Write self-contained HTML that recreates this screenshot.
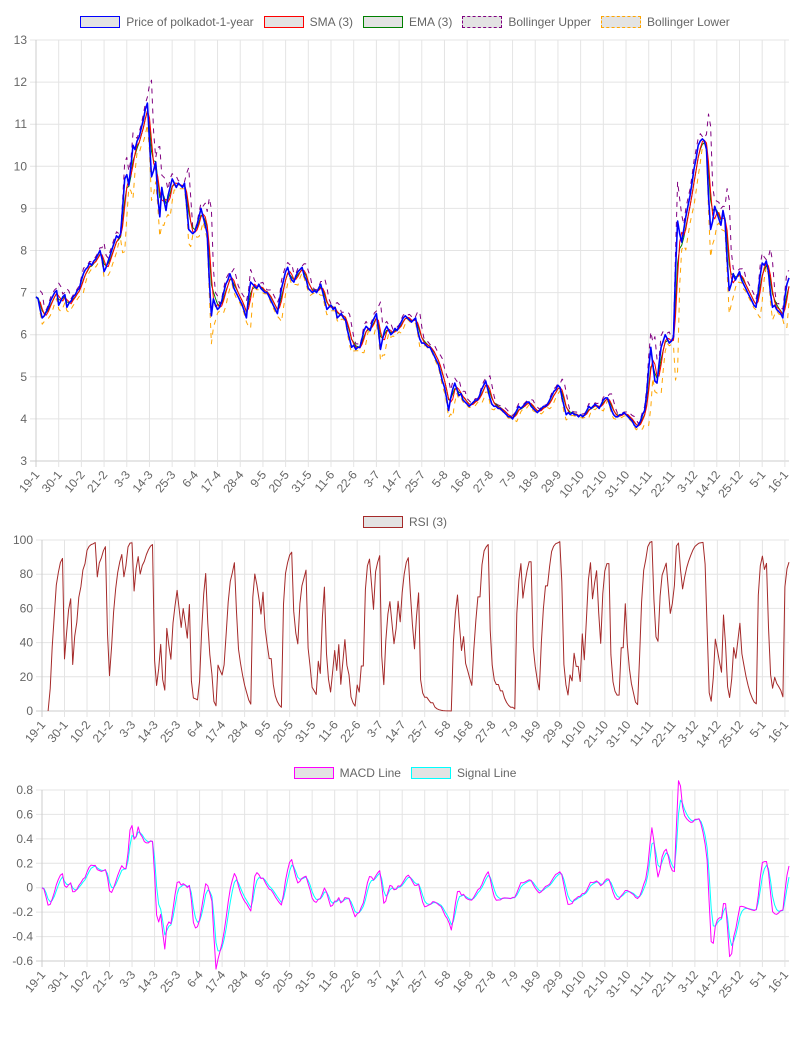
<!DOCTYPE html>
<html><head><meta charset="utf-8">
<style>
body{margin:0;background:#fff;font-family:"Liberation Sans",Arial,sans-serif;}
#wrap{position:relative;width:810px;height:1060px;overflow:hidden;}
.legend{position:absolute;left:0;width:810px;display:flex;justify-content:center;gap:10px;font-size:12px;color:#666;}
.li{display:flex;align-items:center;}
.box{width:38px;height:10px;margin-right:6px;background:rgba(200,200,200,0.5);}
svg{position:absolute;left:0;top:0;}
</style></head><body>
<div id="wrap">
<div class="legend" style="top:15px">
 <div class="li"><span class="box" style="border:1px solid blue"></span>Price of polkadot-1-year</div>
 <div class="li"><span class="box" style="border:1px solid red"></span>SMA (3)</div>
 <div class="li"><span class="box" style="border:1px solid green"></span>EMA (3)</div>
 <div class="li"><span class="box" style="border:1px dashed purple"></span>Bollinger Upper</div>
 <div class="li"><span class="box" style="border:1px dashed orange"></span>Bollinger Lower</div>
</div>
<div class="legend" style="top:515px">
 <div class="li"><span class="box" style="border:1px solid brown"></span>RSI (3)</div>
</div>
<div class="legend" style="top:766px">
 <div class="li"><span class="box" style="border:1px solid magenta"></span>MACD Line</div>
 <div class="li"><span class="box" style="border:1px solid cyan"></span>Signal Line</div>
</div>
<svg id="svg" width="810" height="1060"></svg>
</div>
<script>
const prices=[6.9,6.85,6.6,6.4,6.45,6.55,6.65,6.8,6.9,7.0,7.05,
6.7,6.8,6.9,6.95,6.65,6.75,6.8,6.9,6.95,7.05,7.1,
7.3,7.45,7.55,7.6,7.7,7.65,7.75,7.8,7.9,8.0,7.8,
7.5,7.6,7.75,7.9,8.05,8.2,8.35,8.3,8.4,9.0,9.7,
9.8,9.55,10.0,10.5,10.4,10.6,10.7,10.9,11.1,11.35,11.5,
10.6,9.75,9.9,10.1,9.3,8.8,9.5,9.2,8.95,9.3,9.5,
9.7,9.6,9.5,9.6,9.55,9.5,9.6,9.1,8.5,8.45,8.4,
8.45,8.6,8.8,9.0,8.8,8.6,8.4,7.3,6.45,6.85,6.7,
6.6,6.65,6.8,7.0,7.2,7.3,7.45,7.3,7.1,7.0,6.9,
6.8,6.7,6.55,6.4,6.9,7.25,7.2,7.15,7.1,7.2,7.1,
7.05,7.0,7.0,6.9,6.8,6.7,6.6,6.5,6.8,7.1,7.3,
7.5,7.6,7.4,7.3,7.25,7.4,7.5,7.55,7.6,7.4,7.3,
7.1,7.05,7.0,7.05,7.0,7.1,7.2,7.0,6.8,6.6,6.65,
6.7,6.6,6.65,6.4,6.45,6.5,6.4,6.35,6.1,5.9,5.7,
5.75,5.65,5.7,5.7,5.9,6.1,6.2,6.15,6.1,6.3,6.4,
6.5,6.1,5.65,5.9,6.1,6.2,6.1,6.0,6.05,6.15,6.1,
6.2,6.3,6.4,6.45,6.4,6.35,6.3,6.35,6.4,6.1,5.9,
5.8,5.8,5.75,5.7,5.7,5.6,5.5,5.4,5.3,5.1,4.9,
4.75,4.5,4.2,4.5,4.7,4.85,4.7,4.55,4.6,4.45,4.4,
4.35,4.3,4.35,4.4,4.45,4.45,4.55,4.7,4.8,4.9,4.7,
4.5,4.35,4.3,4.3,4.25,4.25,4.2,4.15,4.1,4.05,4.05,
4.0,4.1,4.2,4.3,4.25,4.3,4.35,4.4,4.4,4.3,4.25,
4.2,4.15,4.2,4.25,4.3,4.3,4.35,4.45,4.55,4.65,4.7,
4.8,4.75,4.5,4.3,4.1,4.15,4.1,4.15,4.1,4.1,4.05,
4.1,4.05,4.1,4.2,4.3,4.25,4.3,4.35,4.3,4.25,4.35,
4.45,4.5,4.5,4.35,4.2,4.1,4.05,4.05,4.1,4.1,4.15,
4.1,4.05,4.0,3.95,3.85,3.8,3.85,3.95,4.1,4.2,4.6,
5.2,5.7,5.3,4.9,4.85,5.3,5.7,5.85,6.0,5.9,5.8,
5.85,5.95,7.5,8.7,8.4,8.2,8.5,8.8,9.05,9.3,9.6,
9.95,10.2,10.5,10.6,10.65,10.6,10.4,9.3,8.5,8.7,9.05,
8.9,8.75,8.6,8.95,8.7,7.8,7.05,7.2,7.45,7.3,7.4,
7.5,7.3,7.2,7.1,7.0,6.9,6.8,6.7,6.65,7.0,7.4,
7.7,7.65,7.75,7.5,7.0,6.65,6.7,6.6,6.55,6.5,6.4,
6.9,7.2,7.35];
const startDate=[2024,0,19];
const priceTicks=[3,4,5,6,7,8,9,10,11,12,13];
const rsiTicks=[0,20,40,60,80,100];
const macdTicks=[-0.6,-0.4,-0.2,0,0.2,0.4,0.6,0.8];
const macdFast=3, macdSlow=7, macdSignal=3;

const N=prices.length;
const labels=[];
for(let i=0;i<N;i++){const sh=(i>=70&&i<284)?1:0;const d=new Date(startDate[0],startDate[1],startDate[2]+i+sh);labels.push(d.getDate()+'-'+(d.getMonth()+1));}
const sma=prices.map((p,i)=>i<2?null:(prices[i]+prices[i-1]+prices[i-2])/3);
const ema=[];prices.forEach((p,i)=>ema.push(i===0?p:p*0.5+ema[i-1]*0.5));
const up=[],lo=[];
prices.forEach((p,i)=>{if(i<2){up.push(null);lo.push(null);return;}const m=sma[i];const v=((prices[i]-m)**2+(prices[i-1]-m)**2+(prices[i-2]-m)**2)/3;const s=Math.sqrt(v);up.push(m+2*s);lo.push(m-2*s);});
const rsi=[null];let ag=0,al=0;
for(let i=1;i<N;i++){const c=prices[i]-prices[i-1];const g=Math.max(c,0),l=Math.max(-c,0);
 if(i<=3){ag+=g/3;al+=l/3;}else{ag=(ag*2+g)/3;al=(al*2+l)/3;}
 rsi.push(i<3?null:(al===0?100:100-100/(1+ag/al)));}
function emaS(arr,n){const k=2/(n+1);const o=[];arr.forEach((v,i)=>o.push(i===0?v:v*k+o[i-1]*(1-k)));return o;}
const eF=emaS(prices,macdFast),eS=emaS(prices,macdSlow);
const macd=eF.map((v,i)=>v-eS[i]);
const sig=emaS(macd,macdSignal);

const svg=document.getElementById('svg');const NS='http://www.w3.org/2000/svg';
function el(t,a,name,parent){const e=document.createElementNS(NS,t);for(const k in a)e.setAttribute(k,a[k]);
 
 
 (parent||svg).appendChild(e);return e;}

function chart(cfg){
 const g=el('g',{},cfg.name);
 const X=i=>cfg.x0+i*(cfg.x1-cfg.x0)/(N-1);
 const Y=v=>cfg.yb-(v-cfg.min)*(cfg.yb-cfg.yt)/(cfg.max-cfg.min);
 cfg.ticks.forEach(t=>{
  el('line',{x1:cfg.x0-6,x2:cfg.x1,y1:Y(t),y2:Y(t),stroke:t===cfg.min?'#ccc':'#e4e4e4','stroke-width':1},'y-gridline',g);
  const tx=el('text',{x:cfg.x0-9,y:Y(t)+4,'text-anchor':'end','font-size':12,fill:'#666'},'y-tick-label',g);
  tx.textContent=(cfg.fmt?cfg.fmt(t):t);
 });
 for(let i=0;i<N;i+=11){
  const x=X(i);
  el('line',{x1:x,x2:x,y1:cfg.yt,y2:cfg.yb+6,stroke:i===0?'#ccc':'#e4e4e4','stroke-width':1},'x-gridline',g);
  const tx=el('text',{x:0,y:0,'text-anchor':'end','font-size':12,fill:'#666',transform:`translate(${x+4},${cfg.yb+14}) rotate(-50)`},'x-tick-label',g);
  tx.textContent=labels[i];
 }
 cfg.series.forEach(s=>{
  let d='';s.data.forEach((v,i)=>{if(v==null)return;d+=(d?'L':'M')+X(i).toFixed(1)+','+Y(v).toFixed(1);});
  const a={d:d,fill:'none',stroke:s.color,'stroke-width':s.w||1,'stroke-linejoin':'round'};
  if(s.dash)a['stroke-dasharray']=s.dash;
  el('path',a,s.name,g);
 });
}
chart({name:'price-chart',x0:36,x1:789,yt:40,yb:461,min:3,max:13,ticks:priceTicks,series:[
 {name:'bollinger-upper-line',data:up,color:'purple',dash:'5,5'},
 {name:'bollinger-lower-line',data:lo,color:'orange',dash:'5,5'},
 {name:'ema-line',data:ema,color:'green'},
 {name:'sma-line',data:sma,color:'red'},
 {name:'price-line',data:prices,color:'blue',w:1.6}]});
chart({name:'rsi-chart',x0:42,x1:789,yt:540,yb:711,min:0,max:100,ticks:rsiTicks,series:[
 {name:'rsi-line',data:rsi,color:'brown'}]});
chart({name:'macd-chart',x0:42,x1:789,yt:790,yb:961,min:-0.6,max:0.8,ticks:macdTicks,fmt:t=>String(Math.round(t*10)/10),series:[
 {name:'signal-line',data:sig,color:'cyan'},
 {name:'macd-line',data:macd,color:'magenta'}]});
</script>
</body></html>
